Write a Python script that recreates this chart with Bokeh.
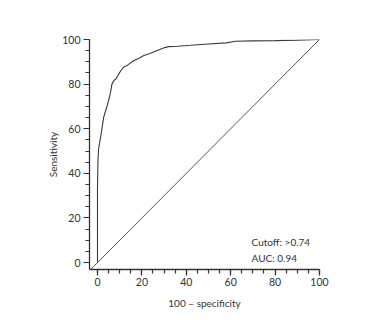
from bokeh.plotting import figure
from bokeh.models import Range1d, SingleIntervalTicker, Slope, Label
from bokeh.embed import file_html
from bokeh.resources import INLINE

# ROC curve values
fpr = [0, 0, 0.2, 0.5, 1.0, 1.4, 2.1, 2.8, 3.5, 4.4, 5.2, 5.9, 6.5, 7.4, 8.5, 9.6,
       10.5, 11.8, 13.5, 16.4, 18.5, 20.9, 23, 26.9, 30, 32.1, 36, 42, 50, 58, 62,
       70, 80, 90, 100]
tpr = [0, 33, 45, 51, 54, 56.2, 60.7, 65.2, 67.5, 70.4, 73.5, 76.4, 80, 81.6, 82.5,
       84.6, 86, 87.6, 88.5, 90.6, 91.5, 92.8, 93.5, 95.1, 96.3, 96.8, 97, 97.4, 98,
       98.5, 99.2, 99.4, 99.5, 99.7, 100]
cutoff_text = "Cutoff: >0.74"
auc_text = "AUC: 0.94"
x_title = "100 \u2013 specificity"
y_title = "Sensitivity"

FONT = "Lato"
TXT = "#333333"

p = figure(width=360, height=327, output_backend="svg", toolbar_location=None,
           x_range=Range1d(-3.6, 100), y_range=Range1d(-3.1, 100),
           min_border_left=89, min_border_right=41, min_border_top=39,
           min_border_bottom=58)
p.outline_line_color = None
p.grid.visible = False
p.background_fill_color = "white"
p.border_fill_color = "white"

for ax in (p.xaxis[0], p.yaxis[0]):
    ax.ticker = SingleIntervalTicker(interval=20, num_minor_ticks=4)
    ax.axis_line_color = "#333333"
    ax.axis_line_width = 1.3
    ax.major_tick_line_color = "#333333"
    ax.minor_tick_line_color = "#333333"
    ax.major_tick_line_width = 1.2
    ax.minor_tick_line_width = 1.2
    ax.major_tick_in = 0
    ax.minor_tick_in = 0
    ax.major_tick_out = 6
    ax.minor_tick_out = 4
    ax.major_label_text_font = FONT
    ax.major_label_text_font_size = "10.5px"
    ax.major_label_text_color = TXT
    ax.axis_label_text_font = FONT
    ax.axis_label_text_font_size = "10px"
    ax.axis_label_text_font_style = "normal"
    ax.axis_label_text_color = TXT

p.xaxis[0].axis_label = x_title
p.xaxis[0].major_label_standoff = 2
p.xaxis[0].axis_label_standoff = 8
p.yaxis[0].axis_label = y_title
p.yaxis[0].major_label_standoff = 3
p.yaxis[0].axis_label_standoff = 0

p.add_layout(Slope(gradient=1, y_intercept=0, line_color="#555555", line_width=1))
p.line(fpr, tpr, line_color="#3a3a3a", line_width=1.1)

p.add_layout(Label(x=69.4, y=9.4, text=cutoff_text, text_font=FONT,
                   text_font_size="10px", text_color=TXT, text_baseline="middle"))
p.add_layout(Label(x=69.4, y=2.2, text=auc_text, text_font=FONT,
                   text_font_size="10px", text_color=TXT, text_baseline="middle"))

open("out.html", "w").write(file_html(p, INLINE))
